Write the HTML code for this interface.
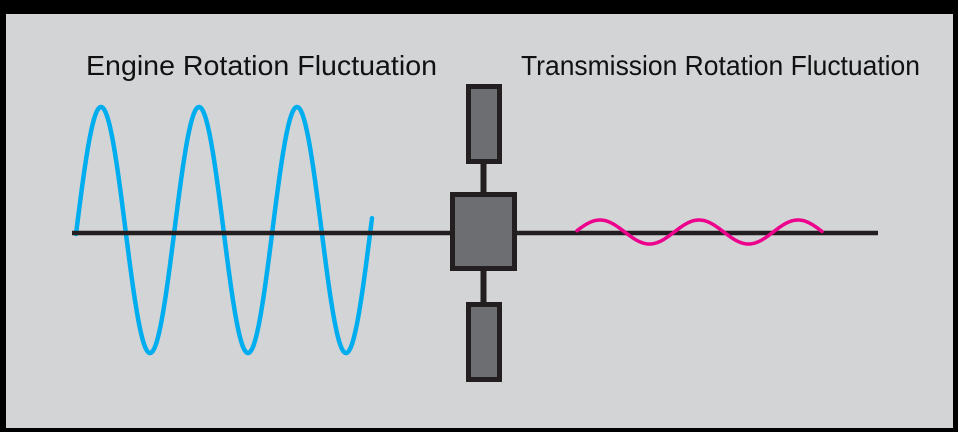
<!DOCTYPE html>
<html><head><meta charset="utf-8"><style>
html,body{margin:0;padding:0;background:#000;}
body{width:958px;height:432px;overflow:hidden;position:relative;}
svg{position:absolute;left:0;top:0;}
</style></head><body>
<svg width="958" height="432" viewBox="0 0 958 432" xmlns="http://www.w3.org/2000/svg">
<rect x="0" y="0" width="958" height="432" fill="#000"/>
<rect x="6" y="14" width="947" height="414" fill="#d3d4d6"/>
<text x="86" y="75" font-family="Liberation Sans, sans-serif" font-size="28" fill="#111" textLength="351" lengthAdjust="spacingAndGlyphs">Engine Rotation Fluctuation</text>
<text x="521" y="75" font-family="Liberation Sans, sans-serif" font-size="28" fill="#111" textLength="399" lengthAdjust="spacingAndGlyphs">Transmission Rotation Fluctuation</text>
<path id="blue" fill="none" stroke="#00aeef" stroke-width="4.5" stroke-linecap="round"/>
<line x1="72" y1="233" x2="878" y2="233" stroke="#231f20" stroke-width="4.5"/>
<path id="pink" fill="none" stroke="#ec008c" stroke-width="3.5" stroke-linecap="round"/>
<line x1="483.5" y1="160" x2="483.5" y2="305" stroke="#231f20" stroke-width="6"/>
<rect x="468.5" y="86.5" width="31" height="75" fill="#6d6e71" stroke="#231f20" stroke-width="5"/>
<rect x="468.5" y="304.5" width="31" height="75" fill="#6d6e71" stroke="#231f20" stroke-width="5"/>
<rect x="452.5" y="194.5" width="62" height="74" fill="#6d6e71" stroke="#231f20" stroke-width="5"/>
</svg>
<script>
function wave(x0,x1,peak,period,amp,cy){var d='';for(var x=x0;x<=x1;x+=1){var y=cy-amp*Math.cos(2*Math.PI*(x-peak)/period);d+=(d?'L':'M')+x+' '+y.toFixed(2);}return d;}
document.getElementById('blue').setAttribute('d',wave(76,372,101,98,123,230));
document.getElementById('pink').setAttribute('d',wave(577,822,600,99,12,232));
</script>
</body></html>
